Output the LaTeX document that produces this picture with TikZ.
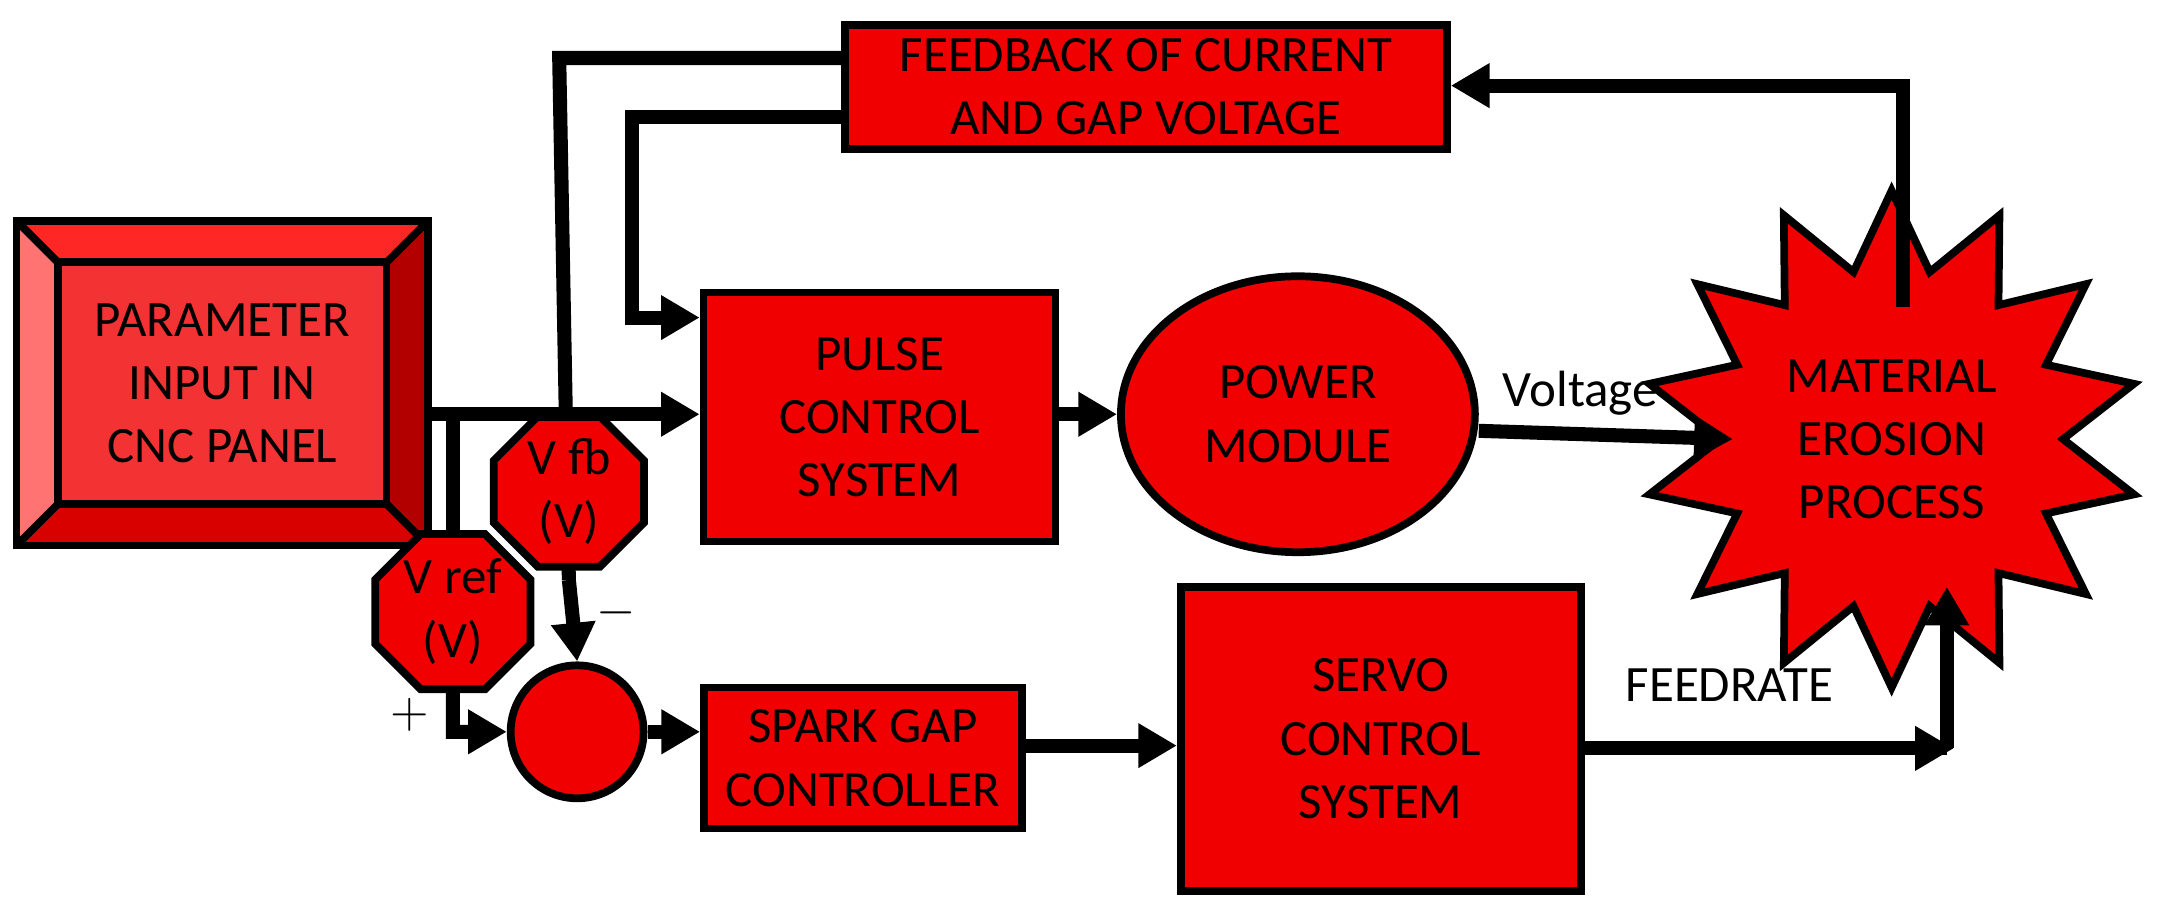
\documentclass[tikz,border=0pt]{standalone}
\usepackage{fontspec}
\setmainfont{Carlito}
\usetikzlibrary{shapes.geometric,arrows.meta,calc}
\definecolor{boxred}{RGB}{240,0,0}
\tikzset{
blk/.style={draw=black, line width=2.2pt, fill=boxred, align=center, font=\fontsize{14.5}{18}\selectfont},
con/.style={line width=4pt, -{Triangle[length=11pt,width=12pt]}},
ln/.style={line width=4pt}
}
\begin{document}
\begin{tikzpicture}[x=0.01381cm,y=-0.01381cm]
\useasboundingbox (0,0) rectangle (1568,668);
% bevelled input panel
\fill[boxred!80!white] (12,160) rectangle (310,395);
\fill[red!55!white] (12,160) -- (42,190) -- (42,365) -- (12,395) -- cycle;
\fill[red!85!white] (12,160) -- (310,160) -- (280,190) -- (42,190) -- cycle;
\fill[red!70!black] (310,160) -- (310,395) -- (280,365) -- (280,190) -- cycle;
\fill[red!85!black] (12,395) -- (310,395) -- (280,365) -- (42,365) -- cycle;
\draw[line width=2.2pt] (12,160) rectangle (310,395) (42,190) rectangle (280,365);
\draw[line width=2.2pt] (12,160) -- (42,190) (310,160) -- (280,190) (310,395) -- (280,365) (12,395) -- (42,365);
\node[blk, draw=none, fill=none] (cnc) at (161,277.5) {PARAMETER\\INPUT IN\\CNC PANEL};
\coordinate (cncr) at (310,300);
% blocks
\node[blk, minimum width=6.02cm, minimum height=1.24cm] (fb) at (830,63) {FEEDBACK OF CURRENT\\AND GAP VOLTAGE};
\node[blk, minimum width=3.52cm, minimum height=2.49cm] (pulse) at (637,302) {PULSE\\CONTROL\\SYSTEM};
\node[blk, ellipse, minimum width=3.54cm, minimum height=2.76cm] (power) at (940,300) {POWER\\MODULE};
\node[blk, star, star points=14, star point ratio=1.45, minimum size=4.97cm, inner sep=0pt] (mat) at (1370,318) {};
\node[blk, draw=none, fill=none] (matt) at (1370,318) {MATERIAL\\EROSION\\PROCESS};
\node[blk, minimum width=4cm, minimum height=3.04cm] (servo) at (1000,535) {SERVO\\CONTROL\\SYSTEM};
\node[blk, minimum width=3.18cm, minimum height=1.41cm] (spark) at (625,549) {SPARK GAP\\CONTROLLER};
\node[blk, circle, minimum size=1.33cm] (sum) at (418,530) {};
% feedback lines
\coordinate (fbl) at (612,42);
\coordinate (fbl2) at (612,85);
\draw[ln] (fbl) -- (405,42) -- (412,420);
\draw[con] (412,420) -- (sum.north);
\draw[con] (fbl2) -- (458,85) -- (458,230) -- (pulse.west |- 0,230);
\draw[con] (1378,222) -- (1378,62) -- (fb.east |- 0,62);
\node[blk, regular polygon, regular polygon sides=8, minimum size=1.52cm, inner sep=0pt] (vfb) at (412,356) {V fb\\(V)};
% main chain
\draw[con] (cncr) -- (pulse.west |- cncr);
\draw[ln] (328,300) -- (328,400);
\node[blk, regular polygon, regular polygon sides=8, minimum size=1.68cm, inner sep=0pt] (vref) at (328,443) {V ref\\(V)};
\draw[con] (vref.south) -- (328,530) -- (sum.west);
\draw[con] (pulse.east |- 0,300) -- (power.west);
\draw[con] (power.east |- 0,312) -- node[above, pos=0.4, font=\fontsize{14.5}{18}\selectfont] {Voltage} (1255,318);
\draw[con] (sum.east) -- (spark.west |- sum.east);
\draw[con] (spark.east |- 0,540) -- (servo.west |- 0,540);
\draw[ln] (servo.east |- 0,542) -- node[above, pos=0.4, yshift=8pt, font=\fontsize{14.5}{18}\selectfont] {FEEDRATE} (1410,542);
\draw[-{Triangle[length=11pt,width=12pt]}, line width=4pt] (1380,542) -- (1415,542);
\draw[con] (1410,542) -- (1410,425);
\node[font=\fontsize{14}{16}\selectfont] (minus) at (446,444) {$-$};
\node[font=\fontsize{14}{16}\selectfont] (plus) at (297,518) {$+$};
\end{tikzpicture}
\end{document}
